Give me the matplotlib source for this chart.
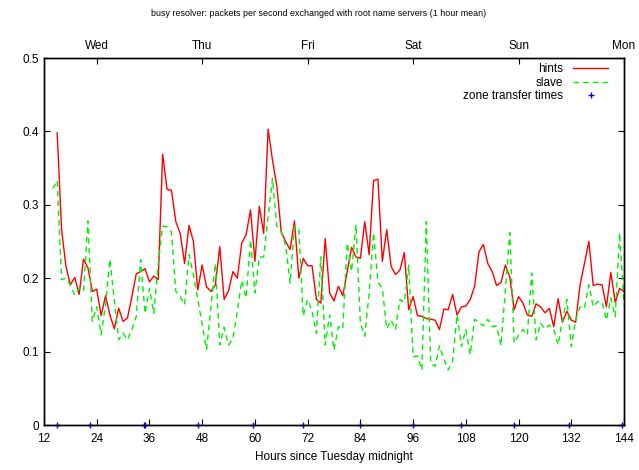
import matplotlib
matplotlib.use("Agg")
import matplotlib.pyplot as plt
import numpy as np

plt.rcParams['font.family'] = ['Liberation Sans', 'DejaVu Sans']

title = "busy resolver: packets per second exchanged with root name servers (1 hour mean)"
xlabel = "Hours since Tuesday midnight"

hints_start = 15
hints = [0.398, 0.266, 0.216, 0.191, 0.201, 0.178, 0.226, 0.214, 0.182, 0.185,
         0.149, 0.176, 0.150, 0.131, 0.159, 0.141, 0.146, 0.175, 0.206, 0.209,
         0.213, 0.195, 0.203, 0.198, 0.369, 0.321, 0.320, 0.277, 0.261, 0.220,
         0.272, 0.250, 0.184, 0.218, 0.188, 0.182, 0.191, 0.243, 0.171, 0.183,
         0.209, 0.200, 0.248, 0.259, 0.293, 0.223, 0.298, 0.261, 0.403, 0.361,
         0.325, 0.263, 0.250, 0.239, 0.278, 0.200, 0.227, 0.217, 0.217, 0.171,
         0.166, 0.254, 0.180, 0.169, 0.189, 0.176, 0.209, 0.242, 0.229, 0.227,
         0.277, 0.232, 0.333, 0.335, 0.223, 0.266, 0.216, 0.205, 0.211, 0.235,
         0.157, 0.175, 0.149, 0.148, 0.145, 0.144, 0.143, 0.130, 0.158, 0.157,
         0.178, 0.150, 0.161, 0.162, 0.171, 0.189, 0.236, 0.246, 0.220, 0.209,
         0.190, 0.194, 0.218, 0.202, 0.157, 0.175, 0.166, 0.150, 0.148, 0.165,
         0.161, 0.153, 0.159, 0.134, 0.172, 0.140, 0.155, 0.143, 0.140, 0.191,
         0.220, 0.250, 0.190, 0.192, 0.191, 0.161, 0.208, 0.167, 0.186, 0.182]

slave_start = 14
slave = [0.322, 0.333, 0.198, 0.200, 0.191, 0.177, 0.186, 0.182, 0.278, 0.141,
         0.161, 0.123, 0.164, 0.226, 0.170, 0.116, 0.125, 0.116, 0.130, 0.148,
         0.225, 0.152, 0.186, 0.152, 0.220, 0.271, 0.270, 0.263, 0.182, 0.175,
         0.164, 0.232, 0.205, 0.171, 0.137, 0.103, 0.161, 0.220, 0.109, 0.133,
         0.109, 0.118, 0.155, 0.197, 0.173, 0.252, 0.180, 0.229, 0.229, 0.284,
         0.336, 0.271, 0.263, 0.245, 0.193, 0.271, 0.266, 0.149, 0.171, 0.155,
         0.125, 0.229, 0.109, 0.150, 0.102, 0.134, 0.131, 0.248, 0.209, 0.273,
         0.139, 0.121, 0.180, 0.262, 0.195, 0.186, 0.131, 0.143, 0.130, 0.171,
         0.167, 0.218, 0.093, 0.094, 0.075, 0.277, 0.084, 0.080, 0.108, 0.090,
         0.075, 0.087, 0.150, 0.107, 0.130, 0.096, 0.144, 0.140, 0.135, 0.144,
         0.134, 0.135, 0.108, 0.184, 0.262, 0.112, 0.122, 0.130, 0.123, 0.207,
         0.116, 0.139, 0.131, 0.136, 0.131, 0.109, 0.143, 0.171, 0.107, 0.143,
         0.161, 0.159, 0.191, 0.161, 0.168, 0.168, 0.143, 0.173, 0.148, 0.262,
         0.164]

zone_transfers = [15, 22.5, 34.7, 35.0, 47, 59.5, 71, 84, 96, 107, 119, 131.5, 143.5]

xticks = [12, 24, 36, 48, 60, 72, 84, 96, 108, 120, 132, 144]
yticks = [0, 0.1, 0.2, 0.3, 0.4, 0.5]
ytick_labels = ["0", "0.1", "0.2", "0.3", "0.4", "0.5"]
day_ticks = [24, 48, 72, 96, 120, 144]
day_labels = ["Wed", "Thu", "Fri", "Sat", "Sun", "Mon"]

hx = np.arange(hints_start, hints_start + len(hints))
sx = np.arange(slave_start, slave_start + len(slave))

fig = plt.figure(figsize=(6.39, 4.70), dpi=100)
ax = fig.add_axes([44/639, 1-425/470, (624-44)/639, (425-58)/470])

ax.plot(hx, hints, color='#ff0000', lw=1.0, label='hints')
ax.plot(sx, slave, color='#00f000', lw=1.0, ls=(0, (4, 3)), label='slave')
ax.plot(zone_transfers, [0]*len(zone_transfers), ls='none', marker='+',
        color='#0000ff', ms=5, mew=1.0, label='zone transfer times', clip_on=False)

ax.set_xlim(12, 144)
ax.set_ylim(0, 0.5)
ax.set_xticks(xticks)
ax.set_xticklabels([str(t) for t in xticks])
ax.set_yticks(yticks)
ax.set_yticklabels(ytick_labels)
ax.tick_params(axis='both', direction='in', length=4, labelsize=8.5, right=True, top=False)
ax.tick_params(axis='x', pad=6)
ax.set_xlabel(xlabel, fontsize=8.5, labelpad=4)

ax2 = ax.twiny()
ax2.set_xlim(12, 144)
ax2.set_xticks(day_ticks)
ax2.set_xticklabels(day_labels)
ax2.tick_params(axis='x', direction='in', length=4, labelsize=8.5, pad=4)

for a in (ax, ax2):
    for s in a.spines.values():
        s.set_linewidth(1.0)

fig.text(319/639, 1-14/470, title, ha='center', va='center', fontsize=6.4)

leg = ax.legend(loc='upper right', bbox_to_anchor=(0.981, 0.998), frameon=False,
                markerfirst=False, fontsize=8.5,
                handlelength=3.0, handletextpad=0.8, labelspacing=0.12,
                borderaxespad=0.0)

fig.savefig("out.png", dpi=100)
